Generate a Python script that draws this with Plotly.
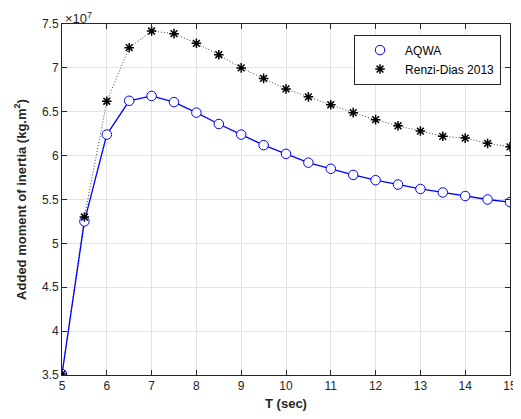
import plotly.graph_objects as go

T = [5, 5.5, 6, 6.5, 7, 7.5, 8, 8.5, 9, 9.5, 10, 10.5, 11, 11.5, 12, 12.5, 13, 13.5, 14, 14.5, 15]
aqwa = [3.51, 5.25, 6.24, 6.625, 6.68, 6.61, 6.49, 6.36, 6.24, 6.12, 6.02, 5.92, 5.85, 5.78,
        5.72, 5.67, 5.62, 5.58, 5.54, 5.50, 5.47]
renzi = [3.51, 5.30, 6.62, 7.23, 7.42, 7.39, 7.28, 7.15, 7.00, 6.88, 6.76, 6.67, 6.58, 6.49,
         6.41, 6.34, 6.28, 6.22, 6.20, 6.14, 6.10]
scale = 1e7
aqwa_v = [v * scale for v in aqwa]
renzi_v = [v * scale for v in renzi]

x_ticks = list(range(5, 16))
y_ticks = [3.5, 4, 4.5, 5, 5.5, 6, 6.5, 7, 7.5]
y_tick_text = ["3.5", "4", "4.5", "5", "5.5", "6", "6.5", "7", "7.5"]

font = "Liberation Sans, Arial, sans-serif"
fig = go.Figure()
# lines
fig.add_trace(go.Scatter(x=T, y=renzi_v, mode="lines", showlegend=False,
                         line=dict(color="#444444", width=1, dash="1px,2px")))
fig.add_trace(go.Scatter(x=T, y=aqwa_v, mode="lines", showlegend=False,
                         line=dict(color="#0000ff", width=1.3)))
# markers
fig.add_trace(go.Scatter(x=T, y=aqwa_v, mode="markers", name="AQWA",
                         marker=dict(symbol="circle", size=9.5, color="white",
                                     line=dict(color="#0000ff", width=1))))
fig.add_trace(go.Scatter(x=T, y=renzi_v, mode="markers", name="Renzi-Dias 2013",
                         marker=dict(symbol="asterisk-open", size=8, color="black",
                                     line=dict(color="black", width=1.5))))

axis_common = dict(showline=True, linecolor="#262626", linewidth=1, mirror="ticks",
                   ticks="inside", ticklen=5, tickcolor="#262626", automargin=False,
                   showgrid=True, gridcolor="#e3e3e3", gridwidth=1, zeroline=False,
                   tickfont=dict(family=font, size=12, color="#262626"))
fig.update_xaxes(range=[5, 15], tickvals=x_ticks,
                 title=dict(text="<b>T (sec)</b>", font=dict(family=font, size=13, color="#262626"), standoff=6),
                 **axis_common)
fig.update_yaxes(range=[3.5 * scale, 7.5 * scale], tickvals=[v * scale for v in y_ticks], ticktext=y_tick_text,
                 title=dict(text="<b>Added moment of inertia (kg.m<sup>2</sup>)</b>",
                            font=dict(family=font, size=13, color="#262626"), standoff=12),
                 **axis_common)
fig.add_annotation(x=0, y=1, xref="paper", yref="paper", xanchor="left", yanchor="bottom",
                   text="\u00d710<sup>7</sup>", showarrow=False, yshift=-4, xshift=1,
                   font=dict(family=font, size=13, color="#262626"))
# page body has an 8px default margin: shrink the figure to fit the 521x419 window
fig.update_layout(width=513, height=411, margin=dict(l=54, r=11, t=16, b=44),
                  plot_bgcolor="white", paper_bgcolor="white",
                  legend=dict(x=0.98, y=0.97, xanchor="right", yanchor="top",
                              bordercolor="#262626", borderwidth=1, bgcolor="white",
                              font=dict(family=font, size=12, color="black"),
                              itemwidth=40, tracegroupgap=0))
fig.write_html("out.html")
